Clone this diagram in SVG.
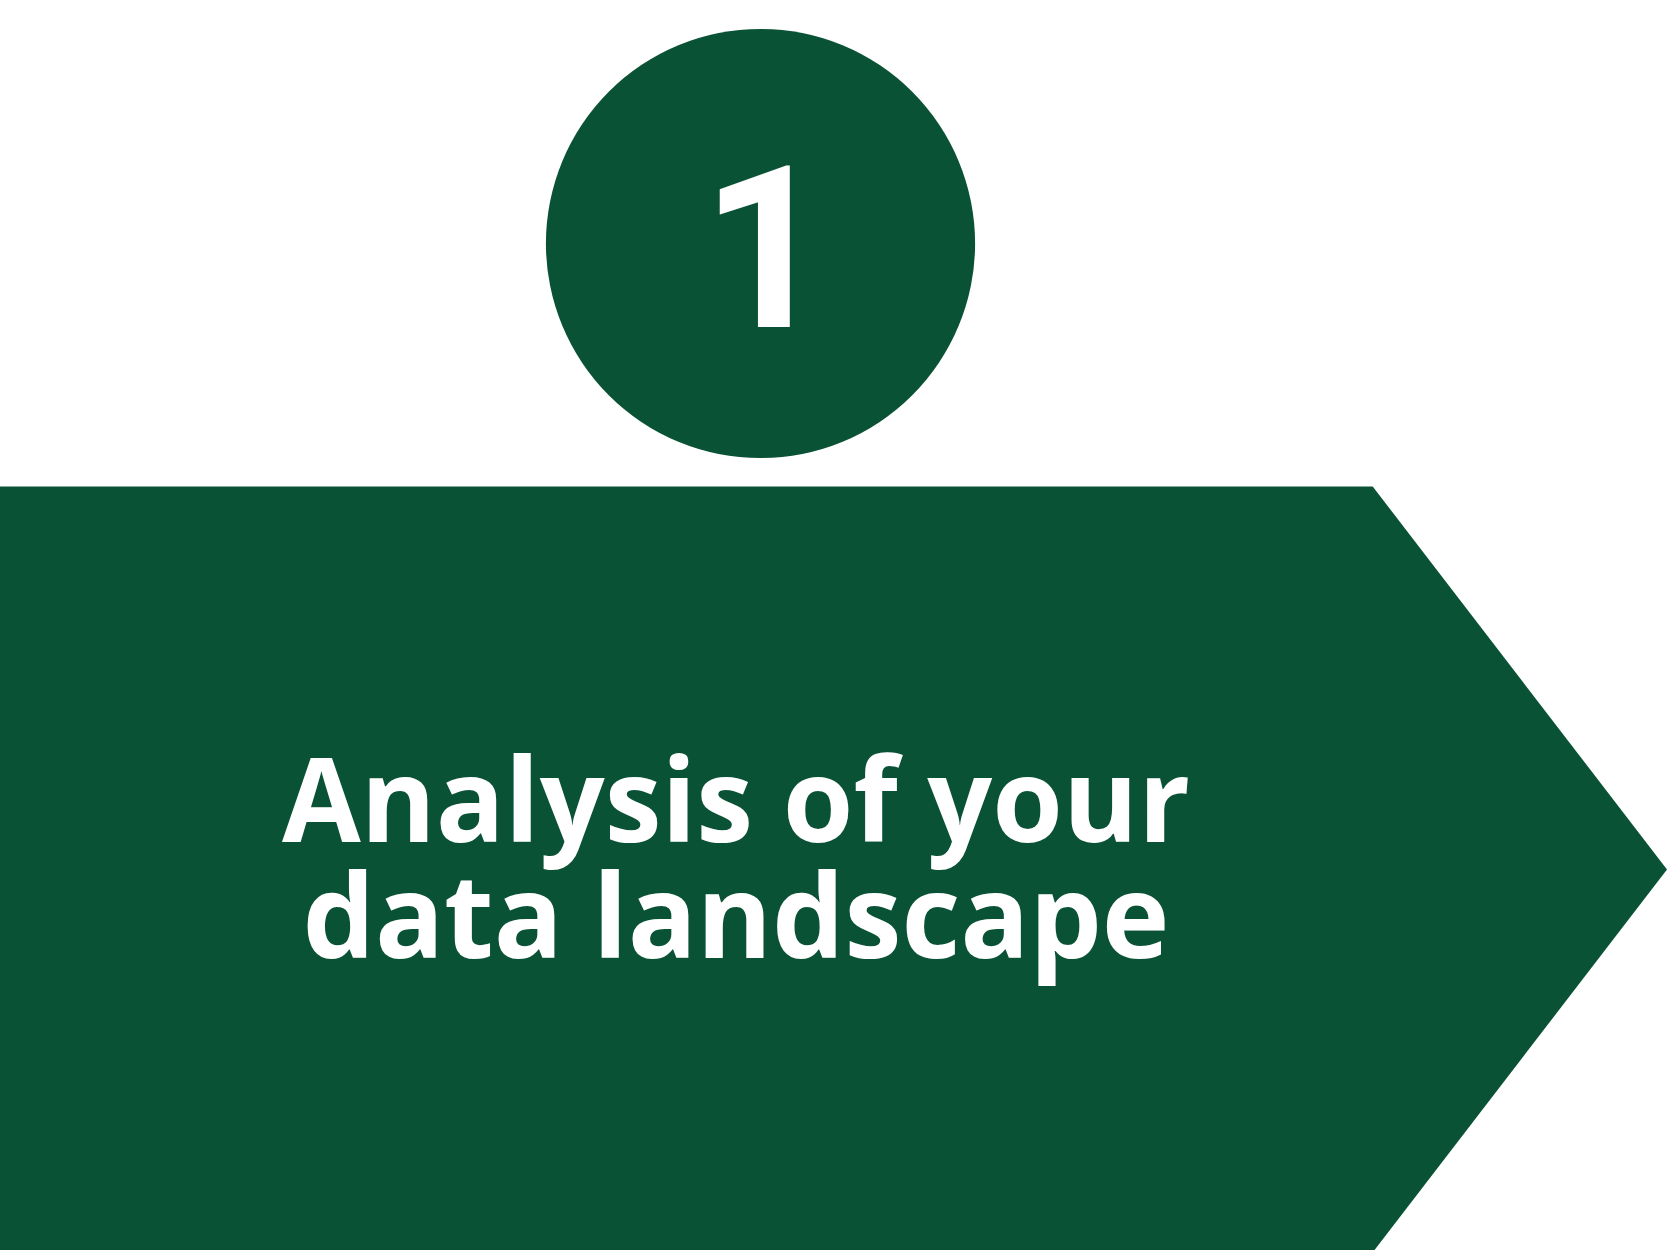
<svg xmlns="http://www.w3.org/2000/svg" width="1667" height="1250" viewBox="0 0 1667 1250">
<style>
.g{fill:#0a5236}
.t{fill:#ffffff;font-family:"Open Sans","Liberation Sans",sans-serif;font-weight:700;font-size:116px;text-anchor:middle}
.n{fill:#ffffff;font-family:Roboto,"Liberation Sans",sans-serif;font-weight:700;font-size:226px;text-anchor:middle}
</style>
<rect width="1667" height="1250" fill="#ffffff"/>
<g id="step-number">
<circle class="g" cx="760.5" cy="243.5" r="214.6"/>
<text class="n" x="766" y="326.7">1</text>
</g>
<g id="step-arrow">
<polygon class="g" points="0,486.5 1372.7,486.5 1667,869.5 1373,1252 0,1252"/>
<text class="t" x="736" y="841.7" textLength="908" lengthAdjust="spacingAndGlyphs">Analysis of your</text>
<text class="t" x="736" y="958.3" textLength="867" lengthAdjust="spacingAndGlyphs">data landscape</text>
</g>
</svg>
